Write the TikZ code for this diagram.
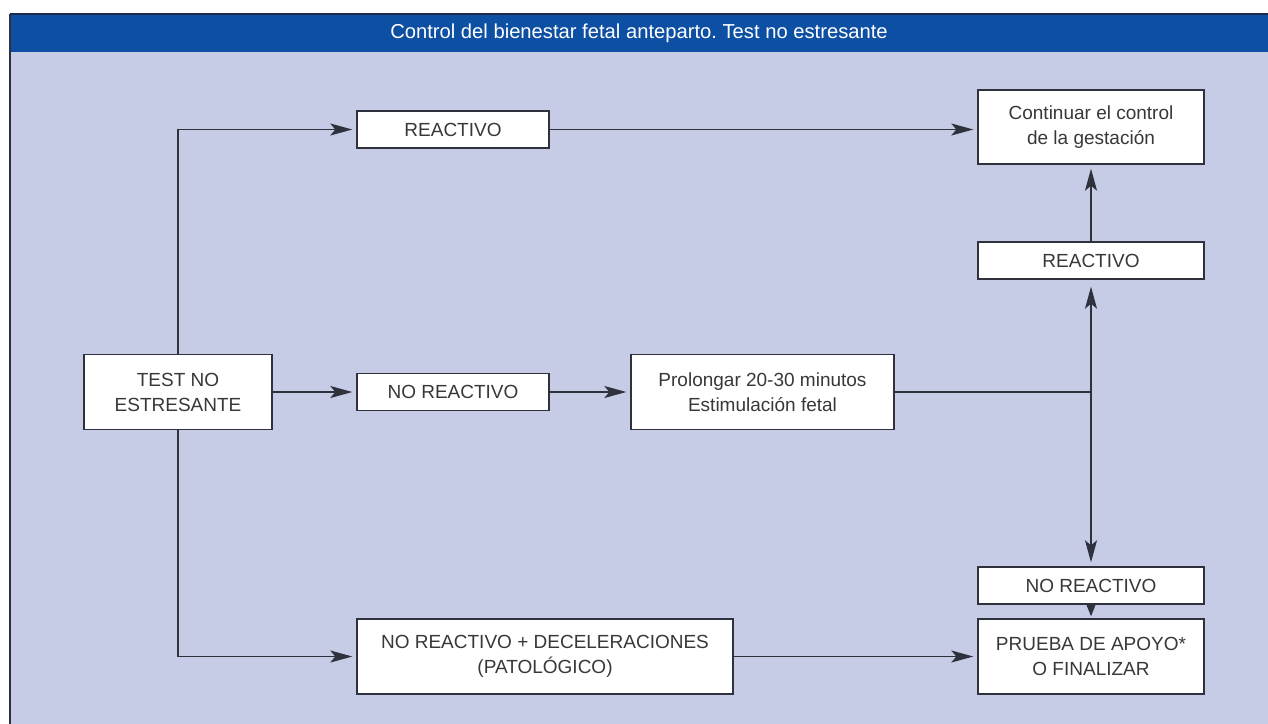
\documentclass[tikz,border=0pt]{standalone}
\usepackage{fontspec}
\setmainfont{Liberation Sans}
\usetikzlibrary{arrows.meta,positioning,backgrounds}
\definecolor{bandblue}{HTML}{0D4FA2}
\definecolor{lavender}{HTML}{C6CBE6}
\definecolor{framegray}{HTML}{2F323C}
\definecolor{topline}{HTML}{1E2B47}
\definecolor{textgray}{HTML}{383838}
\frenchspacing

\begin{document}
\begin{tikzpicture}[x=1pt, y=-1pt,
  box/.style={draw=framegray, fill=white, line width=1.4pt, inner sep=0pt, align=center,
              font=\fontsize{19}{25}\selectfont, text=textgray},
  small/.style={box, minimum height=37pt},
  large/.style={box, minimum height=75pt},
  title/.style={font=\fontsize{20.2}{23}\selectfont, text=white},
  arrow/.style={-{Stealth[length=22pt,width=12pt,inset=5pt]}, line width=1.2pt, draw=framegray, shorten >=4pt},
  link/.style={line width=1.2pt, draw=framegray}
]
  \useasboundingbox (0,0) rectangle (1268,723);
  \clip (0,0) rectangle (1268,723);

  % boxes
  \node[large, minimum width=188pt] (test) at (178,392) {TEST NO\\ESTRESANTE};
  \node[small, minimum width=192pt] (react) at (453,129.5) {REACTIVO};
  \node[small, minimum width=192pt] (noreact) at (453,392) {NO REACTIVO};
  \node[large, minimum width=376pt] (patol) at (545,656.5) {NO REACTIVO + DECELERACIONES\\(PATOLÓGICO)};
  \node[large, minimum width=263pt] (prolong) at (762.5,392) {Prolongar 20-30 minutos\\Estimulación fetal};
  \node[large, minimum width=226pt, minimum height=74pt] (cont) at (1091,127) {Continuar el control\\de la gestación};
  \node[small, minimum width=226pt] (react2) at (1091,260.5) {REACTIVO};
  \node[small, minimum width=226pt] (noreact2) at (1091,585.5) {NO REACTIVO};
  \node[large, minimum width=226pt] (prueba) at (1091,656.5) {PRUEBA DE APOYO*\\O FINALIZAR};
  \node[title] (head) at (639,33) {Control del bienestar fetal anteparto. Test no estresante};

  \begin{scope}[on background layer]
    % frame
    \fill[lavender] (10,52) rectangle (1290,740);
    \fill[bandblue] (10,14) rectangle (1290,52);
    \draw[topline, line width=1.6pt] (1290,14) -- (10,14);
    \draw[framegray, line width=1.6pt] (10,14) -- (10,740);

    % connectors
    \coordinate (split) at (prolong.east -| react2.south);
    \draw[arrow] (test.north) |- (react.west);
    \draw[arrow] (test.south) |- (patol.west);
    \draw[arrow] (react.east) -- (cont.west |- react.east);
    \foreach \a/\b in {test/noreact,noreact/prolong,patol/prueba,react2/cont}{\draw[arrow] (\a) -- (\b);}
    \draw[link] (prolong.east) -- (split);
    \draw[arrow, shorten >=7pt] (split) -- (react2.south);
    \draw[arrow] (split) -- (noreact2.north);
    \draw[arrow, -{Stealth[length=14pt,width=11pt,inset=3pt]}, shorten >=2pt] (noreact2.south) -- (prueba.north);
  \end{scope}
\end{tikzpicture}
\end{document}
